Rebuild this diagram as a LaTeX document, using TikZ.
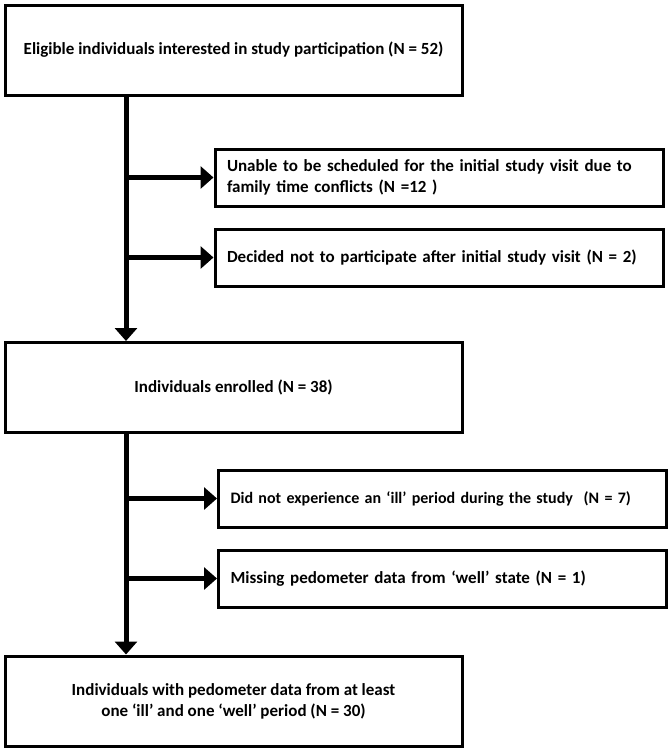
\documentclass[tikz,border=0pt]{standalone}
\usepackage{fontspec}
\setmainfont{Carlito}
\usetikzlibrary{arrows.meta}
\begin{document}
\begin{tikzpicture}[x=1pt,y=-1pt,
    mainbox/.style={draw,line width=3pt,minimum width=457pt,minimum height=90pt,
        align=center,font=\fontsize{17}{21}\selectfont\bfseries},
    sidebox/.style={draw,line width=3pt,text width=424pt,inner xsep=12pt,
        minimum height=57pt,align=left,font=\fontsize{17}{21}\selectfont\bfseries},
    flow/.style={line width=5pt,-{Triangle[length=13pt,width=22pt]}}]
    \useasboundingbox (0,0) rectangle (671,750);
    \coordinate (trunk) at (126,0);
    \node [mainbox] (eligible) at (233.5,50) {Eligible individuals interested in study participation (N = 52)};
    \node [sidebox] (sched) at (439,177.5) {Unable to be scheduled for the initial study visit due to\\family time conflicts (N =12 )};
    \node [sidebox] (declined) at (439,257.5) {Decided not to participate after initial study visit (N = 2)};
    \node [mainbox] (enrolled) at (233.5,387.5) {Individuals enrolled (N = 38)};
    \node [sidebox,font=\fontsize{16}{21}\selectfont\bfseries] (noill) at (442.5,498.5) {Did not experience an ‘ill’ period during the study\ \ (N~=~7)};
    \node [sidebox] (nowell) at (442.5,578.5) {Missing pedometer data from ‘well’ state (N = 1)};
    \node [mainbox] (final) at (233.5,701) {Individuals with pedometer data from at least\\one ‘ill’ and one ‘well’ period (N = 30)};
    \draw [flow] (eligible.south -| trunk) -- (enrolled.north -| trunk);
    \draw [flow] (sched.west -| trunk) -- (sched.west);
    \draw [flow] (declined.west -| trunk) -- (declined.west);
    \draw [flow] (enrolled.south -| trunk) -- (final.north -| trunk);
    \draw [flow] (noill.west -| trunk) -- (noill.west);
    \draw [flow] (nowell.west -| trunk) -- (nowell.west);
\end{tikzpicture}
\end{document}
